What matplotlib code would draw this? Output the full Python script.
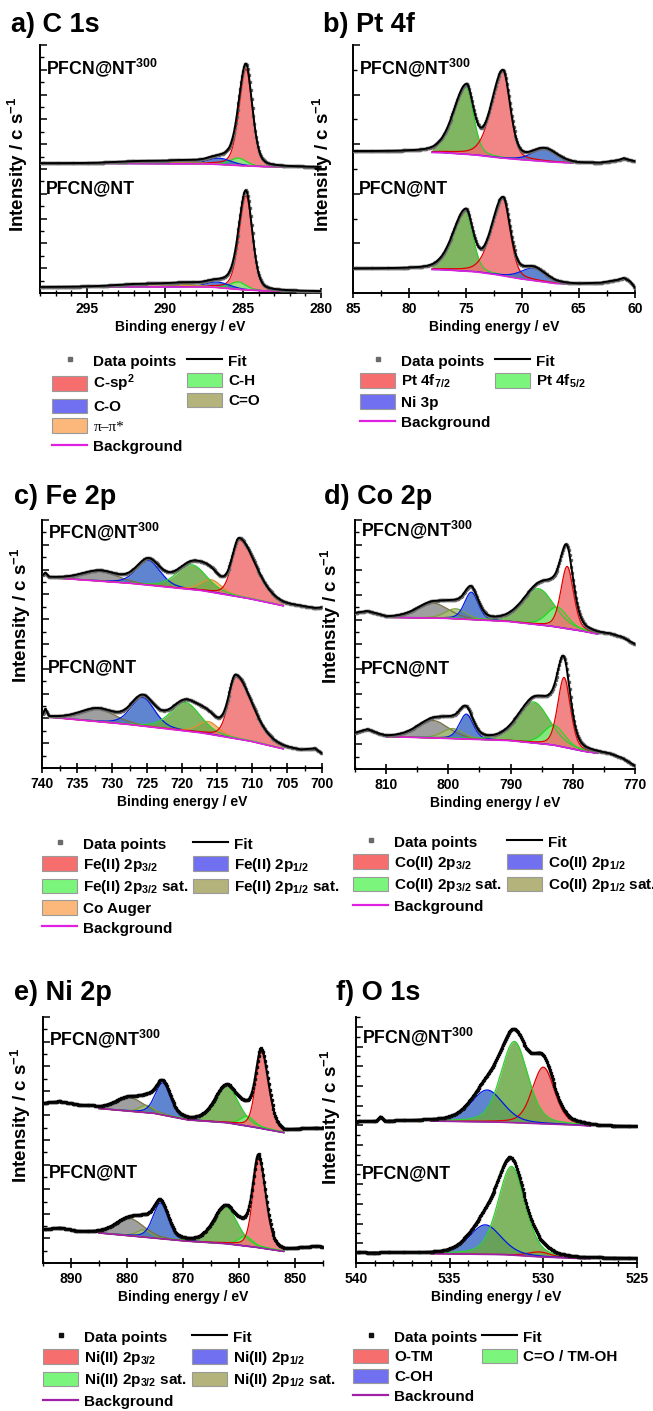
import numpy as np
import matplotlib.pyplot as plt
from matplotlib.lines import Line2D
from matplotlib.patches import Patch
from matplotlib.ticker import MultipleLocator

plt.rcParams["font.family"] = ["Liberation Sans", "DejaVu Sans"]
plt.rcParams["font.weight"] = "bold"
plt.rcParams["axes.labelweight"] = "bold"
plt.rcParams["mathtext.fontset"] = "custom"
plt.rcParams["mathtext.rm"] = "Liberation Sans:bold"
plt.rcParams["mathtext.it"] = "Liberation Sans:bold:italic"
plt.rcParams["mathtext.bf"] = "Liberation Sans:bold"

# ---------------------------------------------------------------------------
# data: peak centres (eV), heights (fraction of axis height), FWHM (eV),
# asymmetry (ratio of high-BE / low-BE width) and background knots
# ---------------------------------------------------------------------------

# a) C 1s
A_XLIM = (298, 280)
A_FIT = (294, 281)
A_KEYS = ["red", "lgreen", "blue", "olive", "orange"]
A_FWHM = [0.95, 1.2, 1.8, 2.0, 4.5]
A_ASYM = [1.1, 1, 1, 1, 1]
A_CENTER_TOP = [284.8, 285.3, 286.5, 288.6, 291.0]
A_HEIGHT_TOP = [0.39, 0.03, 0.025, 0.008, 0.010]
A_CENTER_BOT = [284.8, 285.3, 286.6, 288.6, 291.0]
A_HEIGHT_BOT = [0.38, 0.03, 0.022, 0.010, 0.012]
A_BG_X = [298, 292, 287, 285, 283.5, 280]
A_BG_TOP = [0.523, 0.522, 0.520, 0.513, 0.509, 0.507]
A_BG_BOT = [0.024, 0.025, 0.024, 0.013, 0.008, 0.006]
A_LEGEND = [("C-sp$^2$", "red"), ("C-H", "green"), ("C-O", "blue"),
            ("C=O", "olive"), ("π–π*", "orange")]

# b) Pt 4f
B_XLIM = (85, 60)
B_FIT = (78, 65.5)
B_KEYS = ["dgreen", "red", "blue"]
B_FWHM = [1.5, 1.5, 2.6]
B_ASYM = [1.8, 1.6, 1.0]
B_CENTER_TOP = [74.95, 71.7, 68.0]
B_HEIGHT_TOP = [0.27, 0.35, 0.05]
B_CENTER_BOT = [75.0, 71.7, 69.0]
B_HEIGHT_BOT = [0.24, 0.31, 0.05]
B_BG_X = [85, 80, 77, 74, 72, 70, 67, 65, 63, 61.5, 61, 60.4, 60]
B_BG_TOP = [0.570, 0.568, 0.566, 0.556, 0.545, 0.537, 0.527, 0.523, 0.524,
            0.534, 0.542, 0.534, 0.530]
B_BG_BOT = [0.097, 0.096, 0.094, 0.085, 0.072, 0.056, 0.038, 0.036, 0.040,
            0.052, 0.060, 0.045, 0.020]
B_LEGEND = [("Pt 4f$_{7/2}$", "red"), ("Pt 4f$_{5/2}$", "green"),
            ("Ni 3p", "blue")]

# c) Fe 2p
C_XLIM = (740, 700)
C_FIT = (739, 705.5)
C_KEYS = ["gray", "blue", "orange", "dgreen", "red"]
C_FWHM = [6.0, 4.0, 3.5, 5.0, 5.5]
C_ASYM = [1, 1, 1, 1, 0.45]
C_CENTER_TOP = [731.7, 724.8, 715.8, 718.6, 711.8]
C_HEIGHT_TOP = [0.04, 0.10, 0.05, 0.10, 0.23]
C_CENTER_BOT = [732.0, 725.6, 716.2, 719.5, 712.3]
C_HEIGHT_BOT = [0.05, 0.115, 0.05, 0.115, 0.25]
C_BG_X = [740, 739.5, 739, 727, 717, 710, 705.5, 703, 701, 700]
C_BG_TOP = [0.772, 0.785, 0.768, 0.744, 0.715, 0.681, 0.654, 0.647, 0.640, 0.643]
C_BG_BOT = [0.208, 0.235, 0.205, 0.174, 0.141, 0.107, 0.077, 0.067, 0.074, 0.054]
C_LEGEND = [("Fe(II) 2p$_{3/2}$", "red"), ("Fe(II) 2p$_{1/2}$", "blue"),
            ("Fe(II) 2p$_{3/2}$ sat.", "green"), ("Fe(II) 2p$_{1/2}$ sat.", "olive"),
            ("Co Auger", "orange")]

# d) Co 2p
D_XLIM = (815, 770)
D_FIT = (810, 776)
D_KEYS = ["gray", "lolive", "blue", "dgreen", "lgreen", "red"]
D_FWHM = [6.0, 4.0, 2.6, 6.0, 4.0, 2.4]
D_ASYM = [1, 1, 1, 1, 1, 1]
D_CENTER_TOP = [802.5, 798.8, 796.3, 785.5, 782.5, 780.9]
D_HEIGHT_TOP = [0.06, 0.04, 0.11, 0.145, 0.08, 0.25]
D_CENTER_BOT = [802.5, 799.3, 797.1, 786.3, 783.0, 781.4]
D_HEIGHT_BOT = [0.07, 0.04, 0.10, 0.165, 0.08, 0.28]
D_BG_X = [815, 813, 811, 810, 800, 790, 783, 778, 776, 774, 772, 770]
D_BG_TOP = [0.625, 0.632, 0.618, 0.609, 0.605, 0.592, 0.572, 0.552, 0.542,
            0.538, 0.525, 0.498]
D_BG_BOT = [0.143, 0.157, 0.137, 0.130, 0.123, 0.114, 0.096, 0.070, 0.063,
            0.056, 0.039, 0.009]
D_LEGEND = [("Co(II) 2p$_{3/2}$", "red"), ("Co(II) 2p$_{1/2}$", "blue"),
            ("Co(II) 2p$_{3/2}$ sat.", "green"), ("Co(II) 2p$_{1/2}$ sat.", "olive")]

# e) Ni 2p
E_XLIM = (895, 845)
E_FIT = (885, 852)
E_KEYS = ["gray", "lolive", "blue", "dgreen", "lgreen", "red"]
E_FWHM = [6.0, 3.0, 3.2, 5.0, 3.0, 3.0]
E_ASYM = [1, 1, 1, 1, 1, 0.8]
E_CENTER_TOP = [879.5, 876.5, 873.6, 862.2, 858.5, 856.0]
E_HEIGHT_TOP = [0.055, 0.03, 0.13, 0.15, 0.04, 0.31]
E_CENTER_BOT = [879.5, 877.0, 874.0, 862.4, 858.8, 856.5]
E_HEIGHT_BOT = [0.07, 0.03, 0.145, 0.15, 0.04, 0.36]
E_BG_X = [895, 892, 889, 886, 885, 875, 869, 862, 856, 852, 850, 848, 846, 845]
E_BG_TOP = [0.649, 0.656, 0.642, 0.635, 0.628, 0.608, 0.581, 0.570, 0.547,
            0.530, 0.538, 0.543, 0.547, 0.545]
E_BG_BOT = [0.135, 0.142, 0.128, 0.124, 0.122, 0.101, 0.088, 0.078, 0.061,
            0.047, 0.054, 0.061, 0.065, 0.063]
E_LEGEND = [("Ni(II) 2p$_{3/2}$", "red"), ("Ni(II) 2p$_{1/2}$", "blue"),
            ("Ni(II) 2p$_{3/2}$ sat.", "green"), ("Ni(II) 2p$_{1/2}$ sat.", "olive")]

# f) O 1s
F_XLIM = (540, 525)
F_FIT = (536, 527.5)
F_KEYS = ["red", "blue", "dgreen"]
F_FWHM = [1.4, 2.0, 1.7]
F_ASYM = [1, 1, 1]
F_CENTER_TOP = [530.0, 533.0, 531.55]
F_HEIGHT_TOP = [0.23, 0.13, 0.33]
F_CENTER_BOT = [530.2, 533.1, 531.7]
F_HEIGHT_BOT = [0.02, 0.12, 0.36]
F_BG_X = [540, 538.9, 538.7, 538.5, 536, 532, 530, 528, 527, 525]
F_BG_TOP = [0.573, 0.575, 0.593, 0.575, 0.577, 0.572, 0.566, 0.560, 0.553, 0.553]
F_BG_BOT = [0.041, 0.040, 0.040, 0.040, 0.038, 0.034, 0.024, 0.018, 0.018, 0.018]
F_LEGEND = [("O-TM", "red"), ("C=O / TM-OH", "green"), ("C-OH", "blue")]

TITLES = ["a) C 1s", "b) Pt 4f", "c) Fe 2p", "d) Co 2p", "e) Ni 2p", "f) O 1s"]
SAMPLES = ["PFCN@NT$^{300}$", "PFCN@NT"]
BG_LABELS = ["Background"] * 5 + ["Backround"]

# ---------------------------------------------------------------------------
# styling
# ---------------------------------------------------------------------------
FILL = {"red": "#f07070", "lgreen": "#86f086", "dgreen": "#6aa846",
        "blue": "#4470c8", "gray": "#8e8e8e", "lolive": "#a8c274",
        "olive": "#b4b47c", "orange": "#f4b070"}
EDGE = {"red": "#e00000", "lgreen": "#20e020", "dgreen": "#30d030",
        "blue": "#0018e8", "gray": "#7a7040", "lolive": "#80a040",
        "olive": "#8a8a40", "orange": "#e09030"}
LEG_FILL = {"red": "#f76e6e", "green": "#7cf57c", "blue": "#7070f0",
            "olive": "#b3b37b", "orange": "#fbb87a"}
ETA = 0.3

W, H = 653, 1411
AX_BOX = [(40, 45, 321, 293), (353, 45, 635, 293), (42, 520, 322, 768),
          (355, 520, 635, 769), (43, 1017, 323, 1263), (356, 1017, 637, 1263)]
TITLE_POS = [(11, 25), (323, 25), (14, 497), (324, 497), (14, 993), (336, 993)]
YLABEL_POS = [(-0.036, 0.52), (-0.064, 0.52), (-0.032, 0.617),
              (-0.043, 0.614), (-0.036, 0.6), (-0.046, 0.593)]
SAMPLE_Y = [(0.91, 0.42), (0.91, 0.42), (0.953, 0.403), (0.96, 0.404),
            (0.912, 0.365), (0.919, 0.363)]
LEGEND_POS = [(52, 353), (360, 353), (42, 836), (353, 834), (43, 1329), (353, 1329)]
X_MAJOR = [5, 5, 5, 10, 10, 5]
X_MINOR = [1, 2.5, 2.5, 5, 5, 1]
Y_MAJOR = [0.1, 0.2, 0.1, 0.1, 0.1, 0.08]

PANELS = [
    (A_XLIM, A_FIT, A_KEYS, A_FWHM, A_ASYM, (A_CENTER_TOP, A_HEIGHT_TOP, A_BG_TOP),
     (A_CENTER_BOT, A_HEIGHT_BOT, A_BG_BOT), A_BG_X, A_LEGEND),
    (B_XLIM, B_FIT, B_KEYS, B_FWHM, B_ASYM, (B_CENTER_TOP, B_HEIGHT_TOP, B_BG_TOP),
     (B_CENTER_BOT, B_HEIGHT_BOT, B_BG_BOT), B_BG_X, B_LEGEND),
    (C_XLIM, C_FIT, C_KEYS, C_FWHM, C_ASYM, (C_CENTER_TOP, C_HEIGHT_TOP, C_BG_TOP),
     (C_CENTER_BOT, C_HEIGHT_BOT, C_BG_BOT), C_BG_X, C_LEGEND),
    (D_XLIM, D_FIT, D_KEYS, D_FWHM, D_ASYM, (D_CENTER_TOP, D_HEIGHT_TOP, D_BG_TOP),
     (D_CENTER_BOT, D_HEIGHT_BOT, D_BG_BOT), D_BG_X, D_LEGEND),
    (E_XLIM, E_FIT, E_KEYS, E_FWHM, E_ASYM, (E_CENTER_TOP, E_HEIGHT_TOP, E_BG_TOP),
     (E_CENTER_BOT, E_HEIGHT_BOT, E_BG_BOT), E_BG_X, E_LEGEND),
    (F_XLIM, F_FIT, F_KEYS, F_FWHM, F_ASYM, (F_CENTER_TOP, F_HEIGHT_TOP, F_BG_TOP),
     (F_CENTER_BOT, F_HEIGHT_BOT, F_BG_BOT), F_BG_X, F_LEGEND),
]


def peak(x, c, h, w, asym):
    # pseudo-Voigt, asym stretches the high binding energy side
    ww = np.where(x > c, w * asym, w)
    u = (x - c) / ww
    return h * ((1 - ETA) * np.exp(-4 * np.log(2) * u ** 2) + ETA / (1 + 4 * u ** 2))


def draw_spectrum(ax, xlim, fit, keys, fwhm, asym, spec, bg_x, bg_color, dot_color):
    centers, heights, bg_y = spec
    x = np.linspace(xlim[1], xlim[0], 900)
    base = np.interp(x, bg_x[::-1], bg_y[::-1])
    comps = [peak(x, c, h, w, a) for c, h, w, a in zip(centers, heights, fwhm, asym)]
    total = base + np.sum(comps, axis=0)
    inside = (x <= fit[0]) & (x >= fit[1])
    for comp, key in zip(comps, keys):
        top = base + comp
        ax.fill_between(x[inside], base[inside], top[inside], color=FILL[key],
                        alpha=0.85, lw=0, zorder=2)
        ax.plot(x[inside], top[inside], color=EDGE[key], lw=0.9, zorder=2.5)
    ax.plot(x[inside], base[inside], color=bg_color, lw=1.2, zorder=3)
    ax.plot(x[::3], total[::3], ls="none", marker="s", ms=1.8, color=dot_color, zorder=3.5)
    ax.plot(x, total, color="k", lw=1.4, zorder=4)


def build_legend(fig, i, entries, anchor, dot_color, bg_color):
    blank = Line2D([], [], ls="none")
    patches = [(Patch(facecolor=LEG_FILL[c], edgecolor="#9a9a9a", lw=0.8), lab)
               for lab, c in entries]
    col1 = [(Line2D([], [], ls="none", marker="s", ms=3, color=dot_color), "Data points")]
    col1 += patches[0::2]
    col1 += [(Line2D([], [], color=bg_color, lw=1.6), BG_LABELS[i])]
    col2 = [(Line2D([], [], color="k", lw=1.5), "Fit")] + patches[1::2]
    col2 += [(blank, " ")] * (len(col1) - len(col2))
    items = col1 + col2
    leg = fig.legend([h for h, _ in items], [l for _, l in items], ncol=2,
                     loc="upper left", bbox_to_anchor=(anchor[0] / W, 1 - anchor[1] / H),
                     frameon=False, borderpad=0, borderaxespad=0,
                     prop={"size": 11, "weight": "bold"}, handlelength=2.3,
                     handleheight=1.1, handletextpad=0.4, columnspacing=0.3,
                     labelspacing=0.28)
    for t in leg.get_texts():
        if t.get_text().startswith("π"):
            t.set_fontfamily("Liberation Serif")
            t.set_fontweight("normal")


fig = plt.figure(figsize=(W / 100, H / 100), dpi=100)

for i, (xlim, fit, keys, fwhm, asym, top, bot, bg_x, legend) in enumerate(PANELS):
    l, t, r, b = AX_BOX[i]
    ax = fig.add_axes([l / W, 1 - b / H, (r - l) / W, (b - t) / H])
    dot_color = "#111111" if i >= 4 else "#6a6a6a"
    bg_color = "#a020a8" if i >= 4 else "#e020e0"
    for spec in (top, bot):
        draw_spectrum(ax, xlim, fit, keys, fwhm, asym, spec, bg_x, bg_color, dot_color)

    ax.set_xlim(*xlim)
    ax.set_ylim(0, 1)
    ax.spines["top"].set_visible(False)
    ax.spines["right"].set_visible(False)
    ax.spines["left"].set_linewidth(1.4)
    ax.spines["bottom"].set_linewidth(1.4)
    ax.xaxis.set_major_locator(MultipleLocator(X_MAJOR[i]))
    ax.xaxis.set_minor_locator(MultipleLocator(X_MINOR[i]))
    ax.yaxis.set_major_locator(MultipleLocator(Y_MAJOR[i]))
    ax.yaxis.set_minor_locator(MultipleLocator(Y_MAJOR[i] / 2))
    ax.tick_params(axis="x", which="major", direction="inout", length=7, width=1.2,
                   labelsize=10, pad=3)
    ax.tick_params(axis="x", which="minor", direction="inout", length=4, width=1)
    ax.tick_params(axis="y", which="major", direction="in", length=5, width=1.1,
                   labelleft=False)
    ax.tick_params(axis="y", which="minor", direction="in", length=3, width=1)
    ax.set_xlabel("Binding energy / eV", fontsize=10, labelpad=3)
    ax.set_ylabel("Intensity / c s$^{-1}$", fontsize=13.5)
    ax.yaxis.set_label_coords(*YLABEL_POS[i])

    for label, ys in zip(SAMPLES, SAMPLE_Y[i]):
        ax.text(0.02, ys, label, transform=ax.transAxes, fontsize=12.8,
                fontweight="bold", va="center", ha="left")

    fig.text(TITLE_POS[i][0] / W, 1 - TITLE_POS[i][1] / H, TITLES[i],
             fontsize=19.5, fontweight="bold", va="center", ha="left")

    build_legend(fig, i, legend, LEGEND_POS[i], dot_color, bg_color)

fig.savefig("out.png", dpi=100)
